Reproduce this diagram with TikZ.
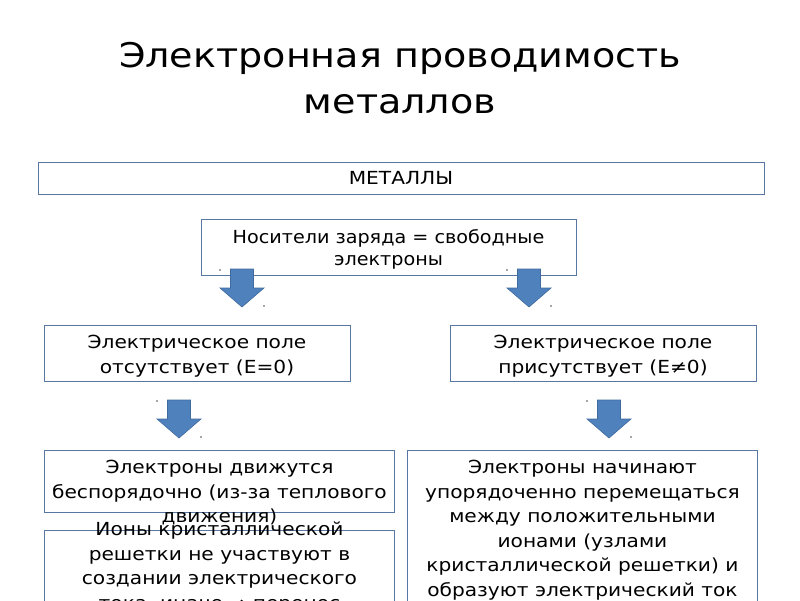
\documentclass[tikz,border=0pt]{standalone}
\usepackage{fontspec}
\setmainfont{DejaVu Sans}[FakeStretch=1.12]
\newfontfamily\narrowfont{DejaVu Sans}[FakeStretch=1.065]
\usetikzlibrary{positioning}

\definecolor{boxline}{HTML}{5877A3}
\definecolor{arrowfill}{HTML}{4F81BD}
\definecolor{arrowline}{HTML}{3F6A9E}

\newcommand{\titlefont}{\fontsize{34}{46}\selectfont}
\newcommand{\bodyfont}{\fontsize{18}{24.5}\selectfont}

\tikzset{
  box/.style={draw=boxline, line width=0.9pt, inner sep=0pt, align=center},
  bodytext/.style={font=\bodyfont, inner sep=0pt, align=center},
  blockarrow/.pic={
    \filldraw[fill=arrowfill, draw=arrowline, line width=0.6pt]
      (-11.5,0) -- (11.5,0) -- (11.5,19) -- (22,19) -- (0,38)
      -- (-22,19) -- (-11.5,19) -- cycle;
    \fill[black!70] (-22,1) circle (0.8) (22,37) circle (0.8);
  },
}

\begin{document}
\begin{tikzpicture}[x=1pt, y=-1pt]

\clip (0,0) rectangle (800,600);
\fill[white] (0,0) rectangle (800,600);

\node[font=\titlefont, align=center] (title) at (400,78)
  {Электронная проводимость\\металлов};

\node[box, font=\bodyfont, minimum width=726, minimum height=32] (metals) at (401,178) {МЕТАЛЛЫ};

\node[box, minimum width=375, minimum height=56] (carriers) at (388.5,247) {};
\node[inner sep=0pt, align=center, font=\narrowfont\fontsize{18}{22}\selectfont, yshift=-2pt]
  (carriersText) at (carriers.center) {Носители заряда = свободные\\электроны};

\pic (arrowNo) at (242,269) {blockarrow};
\pic (arrowYes) at (529,269) {blockarrow};

\node[box, minimum width=306, minimum height=56] (nofield) at (197,353) {};
\node[bodytext, yshift=-3pt] (nofieldText) at (nofield.center)
  {Электрическое поле\\отсутствует (E=0)};
\node[box, minimum width=306, minimum height=56] (field) at (603,353) {};
\node[bodytext, yshift=-3pt] (fieldText) at (field.center)
  {Электрическое поле\\присутствует (E≠0)};

\pic (arrowChaos) at (179,400) {blockarrow};
\pic (arrowOrder) at (609,400) {blockarrow};

% lower boxes run off the slide
\node[box, minimum width=350, minimum height=62, anchor=north west] (chaos) at (44,450) {};
\node[box, minimum width=350, minimum height=100, anchor=north west] (ions) at (44,530) {};
\node[box, minimum width=350, minimum height=180, anchor=north west] (order) at (407,450) {};

\node[bodytext, below=10pt of chaos.north] (chaosText)
  {Электроны движутся\\беспорядочно (из-за теплового\\движения)};
\node[bodytext, anchor=north] (ionsText) at ([yshift=8pt]ions.north)
  {Ионы кристаллической\\решетки не участвуют в\\создании электрического\\тока, иначе ⇒ перенос};
\node[bodytext, below=10pt of order.north] (orderText)
  {Электроны начинают\\упорядоченно перемещаться\\между положительными\\ионами (узлами\\кристаллической решетки) и\\образуют электрический ток};

\end{tikzpicture}
\end{document}
